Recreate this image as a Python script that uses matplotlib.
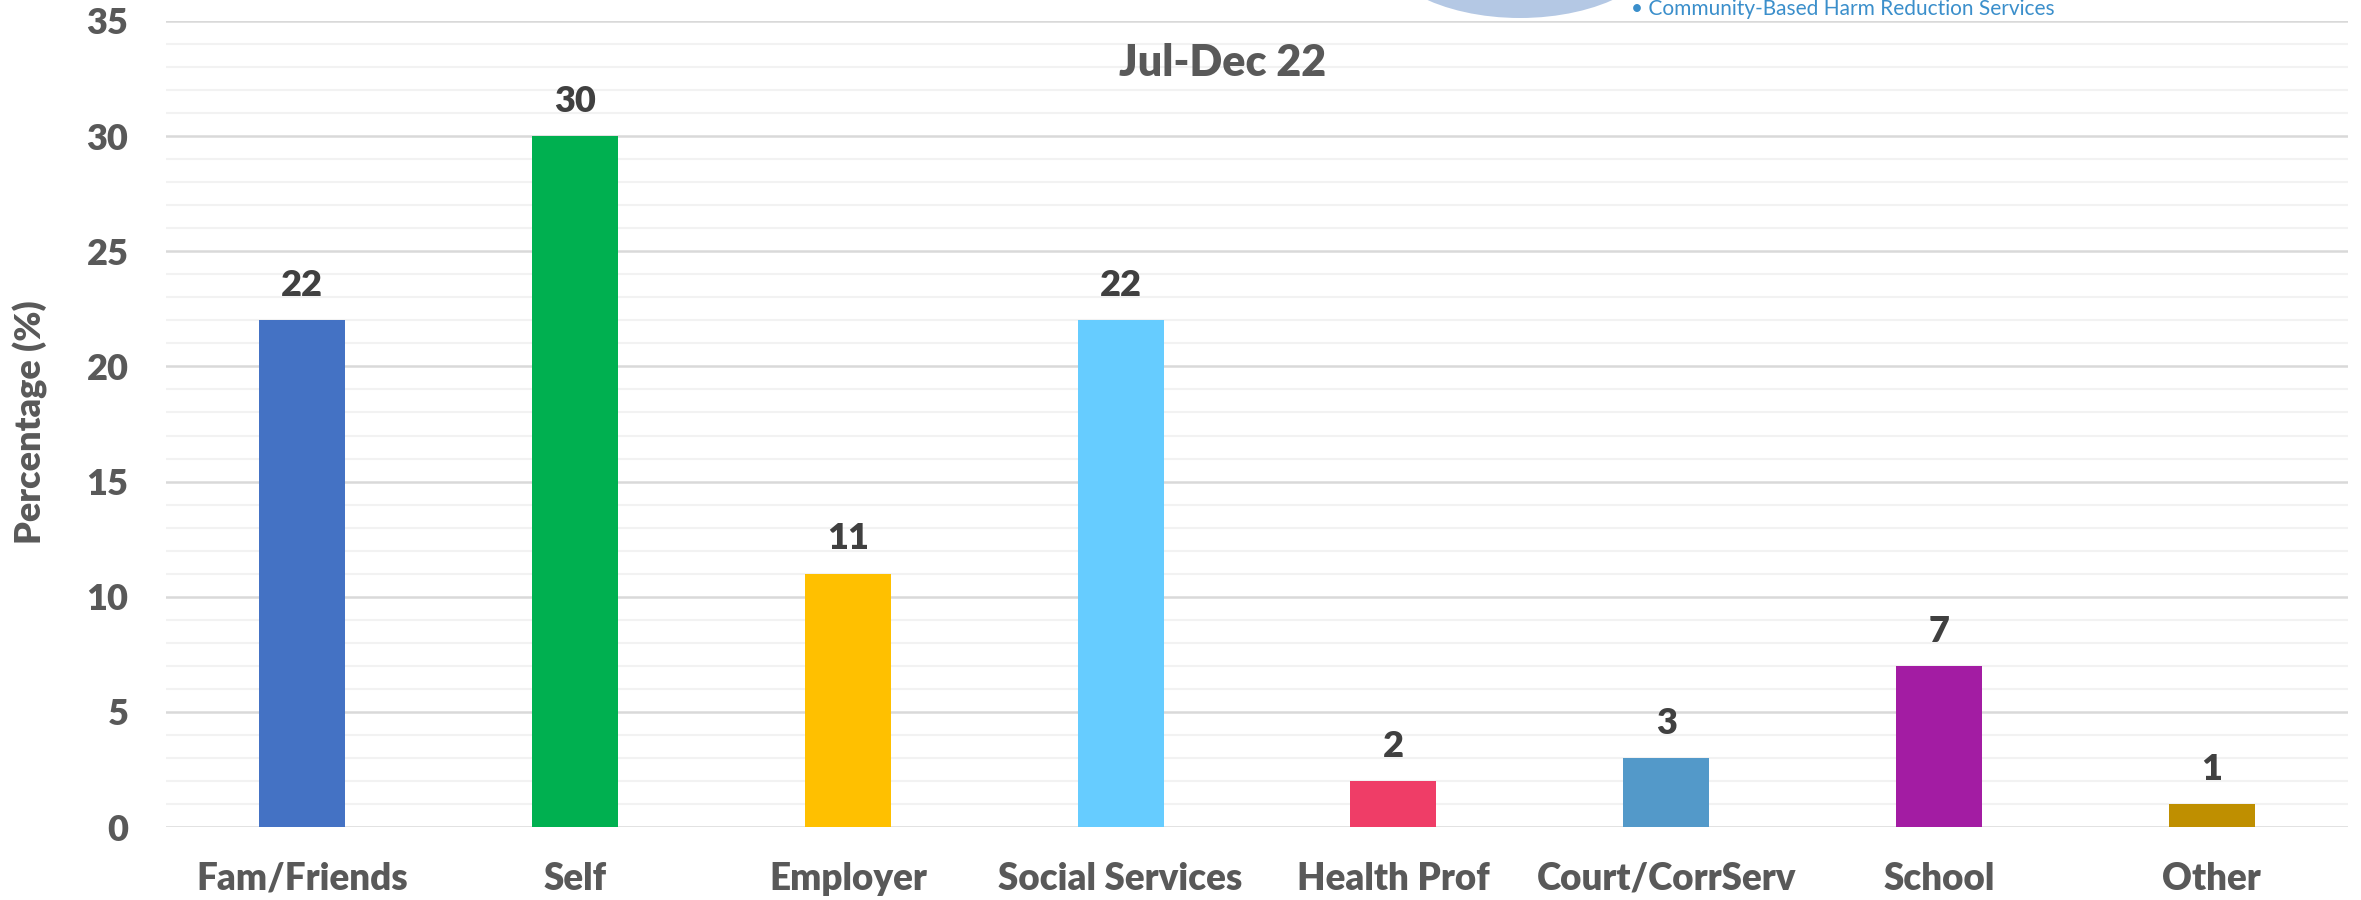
import matplotlib
matplotlib.use('Agg')
import matplotlib.pyplot as plt
from matplotlib.patches import Ellipse

# ===== 数据 =====
categories = ["Fam/Friends", "Self", "Employer", "Social Services",
              "Health Prof", "Court/CorrServ", "School", "Other"]
values = [22, 30, 11, 22, 2, 3, 7, 1]
bar_colors = ["#4472C4", "#00B050", "#FFC000", "#66CCFF",
              "#EF3D67", "#5399C9", "#A31CA3", "#BF8F00"]
y_ticks = [0, 5, 10, 15, 20, 25, 30, 35]

title = "Jul-Dec 22"
y_label = "Percentage (%)"
logo_text = "\u2022 Community-Based Harm Reduction Services"

plt.rcParams['font.family'] = ['Lato', 'DejaVu Sans']
plt.rcParams['font.weight'] = 'bold'

fig = plt.figure(figsize=(23.61, 9), dpi=100)
ax = fig.add_axes([0.0703, 0.0811, 0.9242, 0.8956])

x = range(len(categories))
ax.bar(x, values, width=0.315, color=bar_colors, zorder=3)

for xi, v in zip(x, values):
    ax.annotate(str(v), (xi, v), xytext=(0, 25), textcoords='offset points',
                ha='center', va='center', fontsize=26, fontweight='heavy',
                color='#404040')

ax.set_xlim(-0.5, len(categories) - 0.5)
ax.set_ylim(0, 35)
ax.set_yticks(y_ticks)
ax.set_yticks(range(0, 36), minor=True)
ax.set_xticks(list(x))
ax.set_xticklabels(categories)

ax.grid(axis='y', which='minor', color='#F2F2F2', linewidth=1.5, zorder=0)
ax.grid(axis='y', which='major', color='#D9D9D9', linewidth=1.8, zorder=1)
ax.tick_params(axis='both', which='both', length=0)
ax.tick_params(axis='y', pad=27, labelsize=26, labelcolor='#595959')
ax.tick_params(axis='x', pad=25, labelsize=26.5, labelcolor='#595959')
for lbl in ax.get_xticklabels() + ax.get_yticklabels():
    lbl.set_fontweight('heavy')
for s in ax.spines.values():
    s.set_visible(False)

ax.set_ylabel(y_label, fontsize=26, fontweight='heavy', color='#595959')
ax.yaxis.set_label_coords(-0.054, 0.502)

ax.text(0.484, 0.948, title, transform=ax.transAxes, ha='center', va='center',
        fontsize=31, fontweight='heavy', color='#595959')

# logo (top, partly cut off)
fig.patches.append(Ellipse((1520 / 2361, 1 + 60 / 900), 290 / 2361, 156 / 900,
                           transform=fig.transFigure, facecolor='#B4C8E4',
                           edgecolor='none', zorder=5))
fig.text(1631 / 2361, 1 - 9 / 900, logo_text, ha='left', va='center',
         fontsize=15, fontweight='normal', color='#3B8FCB', zorder=6)

fig.savefig("out.png", dpi=100)
